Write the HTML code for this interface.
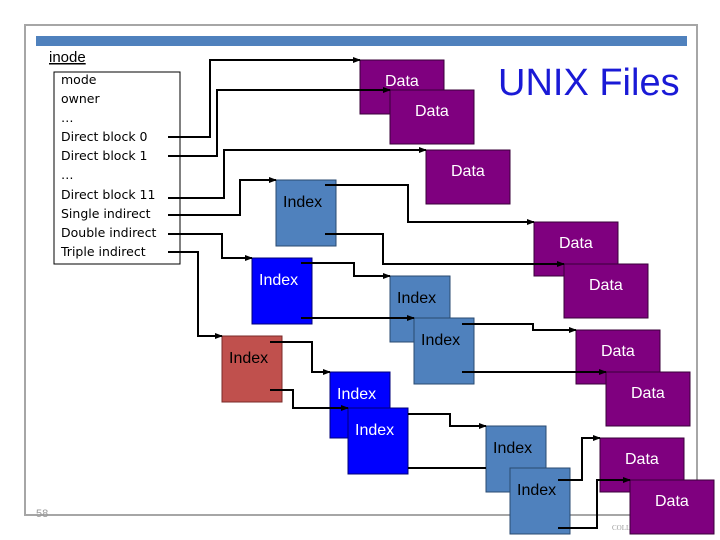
<!DOCTYPE html>
<html><head><meta charset="utf-8"><style>
html,body{margin:0;padding:0;background:#fff;}
svg{display:block;}
</style></head><body>
<svg width="720" height="540" viewBox="0 0 720 540" xmlns="http://www.w3.org/2000/svg">
<defs>
<marker id="a" markerWidth="8" markerHeight="6" refX="7" refY="3" orient="auto" markerUnits="userSpaceOnUse">
<path d="M0,0 L8,3 L0,6 z" fill="#000"/></marker>
</defs>
<rect x="25" y="25" width="672" height="490" fill="none" stroke="#a6a6a6" stroke-width="2"/>
<rect x="36" y="36" width="651" height="10" fill="#4f81bd"/>
<text x="49" y="62" font-family="Liberation Sans, sans-serif" font-size="15" text-decoration="underline">inode</text>
<rect x="54" y="72" width="126" height="192" fill="#fff" stroke="#000" stroke-width="1"/>
<g font-family="DejaVu Sans, sans-serif" font-size="12.5" fill="#000">
<text x="61" y="84">mode</text>
<text x="61" y="103">owner</text>
<text x="61" y="122">…</text>
<text x="61" y="141">Direct block 0</text>
<text x="61" y="160">Direct block 1</text>
<text x="61" y="179">…</text>
<text x="61" y="199">Direct block 11</text>
<text x="61" y="218">Single indirect</text>
<text x="61" y="237">Double indirect</text>
<text x="61" y="256">Triple indirect</text>
</g>
<text x="498" y="95" font-family="Liberation Sans, sans-serif" font-size="38" fill="#1a1ad6">UNIX Files</text>
<text x="36" y="517" font-family="Liberation Sans, sans-serif" font-size="11" fill="#999">58</text>
<text x="612" y="530" font-family="Liberation Serif, serif" font-size="7" fill="#999">COLL</text>

<g fill="#7f007f" stroke="#3a003a" stroke-width="1">
<rect x="360" y="60" width="84" height="54"/>
<rect x="390" y="90" width="84" height="54"/>
<rect x="426" y="150" width="84" height="54"/>
<rect x="534" y="222" width="84" height="54"/>
<rect x="564" y="264" width="84" height="54"/>
<rect x="576" y="330" width="84" height="54"/>
<rect x="606" y="372" width="84" height="54"/>
<rect x="600" y="438" width="84" height="54"/>
<rect x="630" y="480" width="84" height="54"/>
</g>
<g fill="#4f81bd" stroke="#2a4a70" stroke-width="1">
<rect x="276" y="180" width="60" height="66"/>
<rect x="390" y="276" width="60" height="66"/>
<rect x="414" y="318" width="60" height="66"/>
<rect x="486" y="426" width="60" height="66"/>
<rect x="510" y="468" width="60" height="66"/>
</g>
<g fill="#0000ff" stroke="#00007a" stroke-width="1">
<rect x="252" y="258" width="60" height="66"/>
<rect x="330" y="372" width="60" height="66"/>
<rect x="348" y="408" width="60" height="66"/>
</g>
<rect x="222" y="336" width="60" height="66" fill="#c0504d" stroke="#7a2a28"/>

<g font-family="Liberation Sans, sans-serif" font-size="16" fill="#fff">
<text x="385" y="86">Data</text>
<text x="415" y="116">Data</text>
<text x="451" y="176">Data</text>
<text x="559" y="248">Data</text>
<text x="589" y="290">Data</text>
<text x="601" y="356">Data</text>
<text x="631" y="398">Data</text>
<text x="625" y="464">Data</text>
<text x="655" y="506">Data</text>
</g>
<g font-family="Liberation Sans, sans-serif" font-size="16">
<text x="283" y="207" fill="#000">Index</text>
<text x="397" y="303" fill="#000">Index</text>
<text x="421" y="345" fill="#000">Index</text>
<text x="493" y="453" fill="#000">Index</text>
<text x="517" y="495" fill="#000">Index</text>
<text x="259" y="285" fill="#fff">Index</text>
<text x="337" y="399" fill="#fff">Index</text>
<text x="355" y="435" fill="#fff">Index</text>
<text x="229" y="363" fill="#000">Index</text>
</g>

<g fill="none" stroke="#000" stroke-width="2">
<polyline points="168,137 210,137 210,60 360,60" marker-end="url(#a)"/>
<polyline points="168,156 217,156 217,90 390,90" marker-end="url(#a)"/>
<polyline points="168,198 224,198 224,150 426,150" marker-end="url(#a)"/>
<polyline points="168,215 240,215 240,180 276,180" marker-end="url(#a)"/>
<polyline points="168,234 222,234 222,258 252,258" marker-end="url(#a)"/>
<polyline points="168,252 198,252 198,336 222,336" marker-end="url(#a)"/>
<polyline points="325,185 408,185 408,222 534,222" marker-end="url(#a)"/>
<polyline points="325,234 383,234 383,264 564,264" marker-end="url(#a)"/>
<polyline points="301,263 354,263 354,276 390,276" marker-end="url(#a)"/>
<polyline points="301,318 414,318" marker-end="url(#a)"/>
<polyline points="462,324 533,324 533,330 576,330" marker-end="url(#a)"/>
<polyline points="462,372 606,372" marker-end="url(#a)"/>
<polyline points="270,342 312,342 312,372 330,372" marker-end="url(#a)"/>
<polyline points="270,390 293,390 293,408 348,408" marker-end="url(#a)"/>
<polyline points="408,414 450,414 450,426 486,426" marker-end="url(#a)"/>
<polyline points="408,468 486,468"/>
<polyline points="558,480 582,480 582,438 600,438" marker-end="url(#a)"/>
<polyline points="558,528 597,528 597,480 630,480" marker-end="url(#a)"/>
</g>
</svg>
</body></html>
